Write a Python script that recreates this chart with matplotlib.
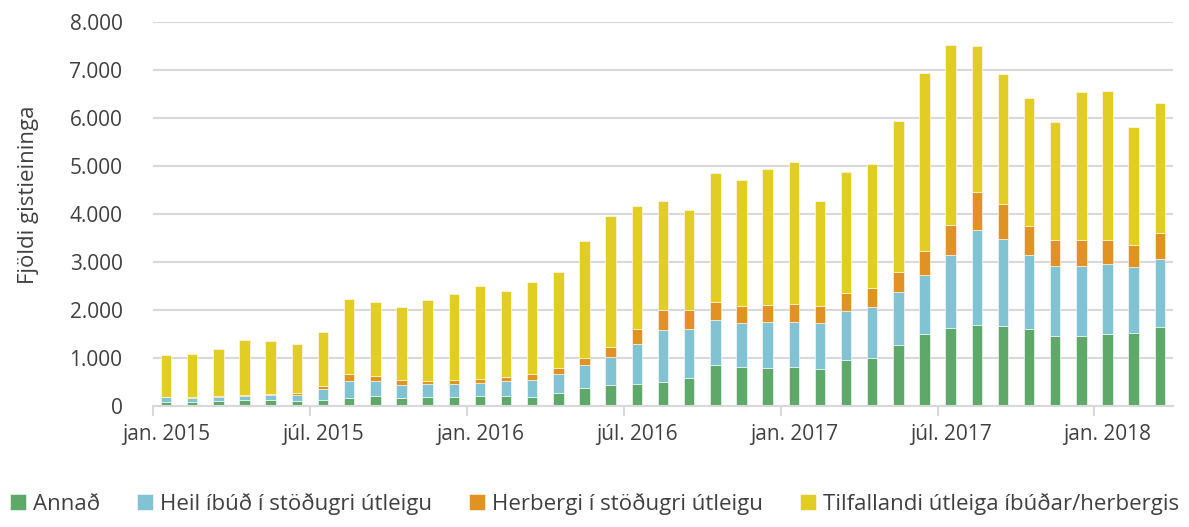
import matplotlib.pyplot as plt
from matplotlib.ticker import FuncFormatter, FixedLocator
import numpy as np

# monthly values, jan. 2015 - mar. 2018
months = [
    "jan. 2015", "feb", "mar", "apr", "maí", "jún",
    "júl. 2015", "ágú", "sep", "okt", "nóv", "des",
    "jan. 2016", "feb", "mar", "apr", "maí", "jún",
    "júl. 2016", "ágú", "sep", "okt", "nóv", "des",
    "jan. 2017", "feb", "mar", "apr", "maí", "jún",
    "júl. 2017", "ágú", "sep", "okt", "nóv", "des",
    "jan. 2018", "feb", "mar",
]

annad = [
    80, 75, 105, 110, 110, 105, 110, 165, 195, 165, 185, 190,
    200, 210, 185, 265, 375, 430, 445, 500, 585, 855, 810, 790,
    810, 770, 960, 1000, 1255, 1485, 1610, 1680, 1665, 1590, 1460, 1460,
    1500, 1520, 1645,
]
heil_ibud = [
    95, 90, 85, 100, 105, 115, 235, 350, 310, 265, 260, 270,
    265, 300, 360, 390, 465, 585, 835, 1070, 1005, 930, 905, 945,
    930, 945, 1005, 1060, 1105, 1235, 1530, 1985, 1805, 1550, 1445, 1450,
    1445, 1360, 1415,
]
herbergi = [
    15, 20, 20, 20, 35, 50, 70, 145, 120, 100, 75, 85,
    90, 95, 110, 130, 155, 215, 325, 430, 410, 375, 360, 370,
    370, 370, 390, 400, 420, 495, 615, 790, 735, 610, 555, 550,
    515, 470, 540,
]
tilfallandi = [
    870, 890, 965, 1130, 1090, 1010, 1120, 1560, 1535, 1525, 1675, 1790,
    1945, 1785, 1915, 2005, 2430, 2720, 2555, 2265, 2070, 2680, 2625, 2825,
    2965, 2185, 2505, 2575, 3145, 3720, 3750, 3035, 2705, 2665, 2445, 3070,
    3095, 2460, 2705,
]

series = [
    ("Annað", annad, "#5ea86a"),
    ("Heil íbúð í stöðugri útleigu", heil_ibud, "#82c3d3"),
    ("Herbergi í stöðugri útleigu", herbergi, "#e09322"),
    ("Tilfallandi útleiga íbúðar/herbergis", tilfallandi, "#e2cd25"),
]

plt.rcParams["font.family"] = ["Open Sans", "DejaVu Sans"]
text_color = "#404040"
grid_color = "#d9d9d9"

fig = plt.figure(figsize=(11.89, 5.27), dpi=100)
ax = fig.add_axes([0.1287, 0.2302, 0.8578, 0.7286])

x = np.arange(len(months))
bottom = np.zeros(len(months))
for label, values, color in series:
    ax.bar(
        x,
        values,
        width=0.4,
        bottom=bottom,
        color=color,
        edgecolor="white",
        linewidth=0.4,
        label=label,
        zorder=3,
    )
    bottom += np.array(values)

ax.set_xlim(-0.5, len(months) - 0.5)
ax.set_ylim(0, 8000)
ax.set_yticks(np.arange(0, 8001, 1000))
ax.yaxis.set_major_formatter(
    FuncFormatter(lambda v, p: f"{int(v):,}".replace(",", "."))
)
ax.grid(axis="y", color=grid_color, linewidth=1.5, zorder=0)

label_pos = [i for i, m in enumerate(months) if "." in m]
ax.set_xticks(label_pos)
ax.set_xticklabels([months[i] for i in label_pos])
ax.xaxis.set_minor_locator(FixedLocator([p - 0.5 for p in label_pos]))
ax.tick_params(axis="x", which="major", length=0, pad=13,
               labelsize=15, labelcolor=text_color)
ax.tick_params(axis="x", which="minor", length=7, width=1.5,
               color=grid_color)
ax.tick_params(axis="y", length=0, pad=22, labelsize=15,
               labelcolor=text_color)

for side in ["top", "right", "left"]:
    ax.spines[side].set_visible(False)
ax.spines["bottom"].set_color(grid_color)
ax.spines["bottom"].set_linewidth(1.5)
ax.spines["bottom"].set_zorder(4)

ax.set_ylabel("Fjöldi gistieininga", fontsize=16, color=text_color)
ax.yaxis.set_label_coords(-0.112, 0.55)

fig.legend(
    loc="lower center",
    bbox_to_anchor=(0.5, -0.015),
    ncol=4,
    frameon=False,
    fontsize=16,
    handlelength=0.7,
    handleheight=0.7,
    handletextpad=0.3,
    columnspacing=1.7,
    labelcolor=text_color,
)

fig.savefig("out.png", dpi=100)
